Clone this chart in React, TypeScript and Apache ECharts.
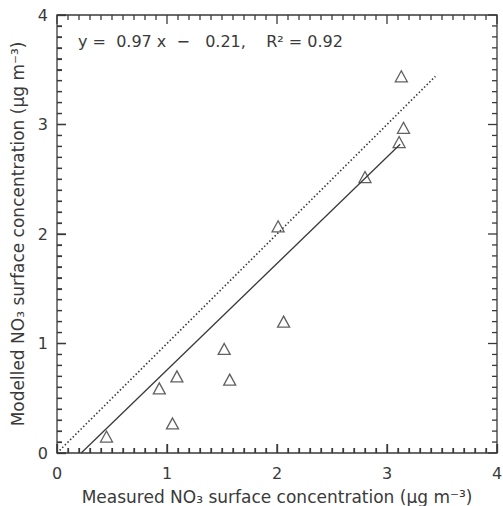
import React, { useEffect, useRef } from "react";
import * as echarts from "echarts";

const measured = [0.45, 0.93, 1.05, 1.09, 1.52, 1.57, 2.06, 2.01, 2.8, 3.13, 3.15, 3.11];
const modelled = [0.15, 0.59, 0.27, 0.7, 0.95, 0.67, 1.2, 2.07, 2.52, 3.44, 2.97, 2.84];
const fitLine = [[0.22, 0], [3.12, 2.82]];
const oneToOne = [[0, 0], [3.44, 3.44]];
const majorTicks = [0, 1, 2, 3, 4];
const minorTicks = [
  0.1, 0.2, 0.3, 0.4, 0.5, 0.6, 0.7, 0.8, 0.9,
  1.1, 1.2, 1.3, 1.4, 1.5, 1.6, 1.7, 1.8, 1.9,
  2.1, 2.2, 2.3, 2.4, 2.5, 2.6, 2.7, 2.8, 2.9,
  3.1, 3.2, 3.3, 3.4, 3.5, 3.6, 3.7, 3.8, 3.9,
];
const equationText = "y =  0.97 x  −   0.21,    R² = 0.92";
const xTitle = "Measured NO₃ surface concentration (μg m⁻³)";
const yTitle = "Modelled NO₃ surface concentration (μg m⁻³)";

const FONT = "'DejaVu Sans', sans-serif";
const INK = "#3a3a3a";

export default function App() {
  const ref = useRef<HTMLDivElement>(null);
  useEffect(() => {
    document.body.style.margin = "0";
    document.body.style.background = "#ffffff";
    const chart = echarts.init(ref.current!, null, { renderer: "svg" });
    const pts = measured.map((m, i) => [m, modelled[i]]);
    const tickData = [
      ...majorTicks.map((v) => [v, 1]),
      ...minorTicks.map((v) => [v, 0]),
    ];
    chart.setOption({
      animation: false,
      textStyle: { fontFamily: FONT },
      grid: {
        left: 57,
        right: 6,
        top: 15,
        bottom: 53,
        show: true,
        borderColor: INK,
        borderWidth: 1.3,
        backgroundColor: "rgba(0,0,0,0)",
        outerBoundsMode: "none",
        containLabel: false,
      },
      xAxis: {
        type: "value",
        min: 0,
        max: 4,
        interval: 1,
        axisLine: { show: false, onZero: false },
        axisTick: { show: true, inside: true, length: 9, lineStyle: { color: INK, width: 1.3 } },
        minorTick: { show: true, splitNumber: 10, length: 5, lineStyle: { color: INK, width: 1.2 } },
        splitLine: { show: false },
        axisLabel: { color: INK, fontSize: 16, fontFamily: FONT, margin: 12 },
        name: xTitle,
        nameLocation: "middle",
        nameGap: 35,
        nameTextStyle: { color: INK, fontSize: 17, fontFamily: FONT },
      },
      yAxis: {
        type: "value",
        min: 0,
        max: 4,
        interval: 1,
        axisLine: { show: false, onZero: false },
        axisTick: { show: true, inside: true, length: 9, lineStyle: { color: INK, width: 1.3 } },
        minorTick: { show: true, splitNumber: 10, length: 5, lineStyle: { color: INK, width: 1.2 } },
        splitLine: { show: false },
        axisLabel: { color: INK, fontSize: 16, fontFamily: FONT, margin: 9 },
        name: yTitle,
        nameLocation: "middle",
        nameGap: 28,
        nameRotate: 90,
        nameTextStyle: { color: INK, fontSize: 17, fontFamily: FONT },
      },
      graphic: [
        {
          type: "text",
          left: 78,
          top: 33,
          style: { text: equationText, fill: INK, fontSize: 16, fontFamily: FONT },
        },
      ],
      series: [
        {
          type: "custom",
          data: tickData,
          silent: true,
          clip: false,
          z: 5,
          renderItem: (_params: any, api: any) => {
            const v = api.value(0);
            const len = api.value(1) ? 9 : 5;
            const w = 1.3;
            const b = api.coord([v, 0]);
            const t = api.coord([v, 4]);
            const l = api.coord([0, v]);
            const r = api.coord([4, v]);
            const st = { fill: INK };
            return {
              type: "group",
              children: [
                { type: "rect", shape: { x: b[0] - w / 2, y: b[1] - len, width: w, height: len }, style: st },
                { type: "rect", shape: { x: t[0] - w / 2, y: t[1], width: w, height: len }, style: st },
                { type: "rect", shape: { x: l[0], y: l[1] - w / 2, width: len, height: w }, style: st },
                { type: "rect", shape: { x: r[0] - len, y: r[1] - w / 2, width: len, height: w }, style: st },
              ],
            };
          },
        },
        {
          type: "line",
          data: oneToOne,
          symbol: "none",
          lineStyle: { color: INK, width: 1.6, type: [1.5, 2.2] },
          silent: true,
        },
        {
          type: "line",
          data: fitLine,
          symbol: "none",
          lineStyle: { color: INK, width: 1.3, type: "solid" },
          silent: true,
        },
        {
          type: "scatter",
          data: pts,
          symbol: "triangle",
          symbolSize: [12, 11],
          itemStyle: { color: "rgba(0,0,0,0)", borderColor: INK, borderWidth: 1.3 },
        },
      ],
    });
    return () => chart.dispose();
  }, []);
  return <div ref={ref} style={{ width: 503, height: 506 }} />;
}
